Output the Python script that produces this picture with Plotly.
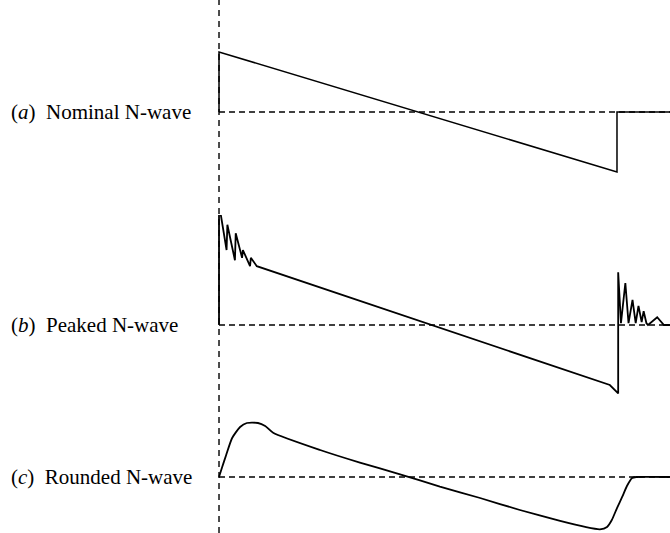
import plotly.graph_objects as go

# ---- data (normalised time t: 0 = shock arrival, 1 = tail shock; pressure in units of nominal peak) ----
t_nominal = [0, 0, 1.0, 1.0, 1.133]
p_nominal = [0, 1.0, -1.0, 0, 0]

t_peaked = [0, 0, 0.019, 0.021, 0.040, 0.042, 0.058, 0.060, 0.078, 0.080, 0.095,
            0.982, 1.003, 1.003, 1.010, 1.021, 1.029, 1.039, 1.047, 1.054, 1.062,
            1.067, 1.074, 1.078, 1.101, 1.118, 1.133]
p_peaked = [0, 2.02, 1.25, 1.67, 1.08, 1.53, 1.12, 1.25, 0.98, 1.12, 0.98,
            -1.0, -1.14, 0.88, 0.03, 0.70, 0.03, 0.42, 0.03, 0.32, 0.05,
            0.23, 0.03, 0, 0.13, 0, 0]

t_rounded = [0, 0.008, 0.018, 0.033, 0.053, 0.070, 0.098, 0.116, 0.136, 0.254,
             0.354, 0.455, 0.555, 0.656, 0.756, 0.857, 0.920, 0.957, 0.975, 0.987,
             1.0, 1.013, 1.025, 1.038, 1.048, 1.133]
p_rounded = [0, 0.167, 0.367, 0.65, 0.833, 0.9, 0.9, 0.85, 0.738, 0.45,
             0.24, 0.045, -0.16, -0.35, -0.55, -0.733, -0.833, -0.872, -0.833, -0.717,
             -0.517, -0.333, -0.15, -0.017, 0, 0]

labels = ["(<i>a</i>)&nbsp; Nominal N-wave", "(<i>b</i>)&nbsp; Peaked N-wave",
          "(<i>c</i>)&nbsp; Rounded N-wave"]

T_MIN, T_MAX = -0.5503, 1.1332
H = 533.0

# axis layout: (top px, bottom px, baseline px)
panels = [(0, 215, 112), (215, 400, 325), (400, 533, 477)]
PX_PER_UNIT = 60.0

fig = go.Figure()
series = [(t_nominal, p_nominal, 1.5), (t_peaked, p_peaked, 1.8), (t_rounded, p_rounded, 1.8)]
for i, ((t, p, w), (top, bot, base)) in enumerate(zip(series, panels)):
    yname = "y" if i == 0 else f"y{i+1}"
    # dashed baseline
    fig.add_trace(go.Scatter(x=[0, T_MAX], y=[0, 0], mode="lines", xaxis="x", yaxis=yname,
                             line=dict(color="black", width=1.4, dash="6px,4px"),
                             hoverinfo="skip", showlegend=False))
    fig.add_trace(go.Scatter(x=t, y=p, mode="lines", xaxis="x", yaxis=yname,
                             line=dict(color="black", width=w,
                                       shape="spline" if i == 2 else "linear",
                                       smoothing=0.6 if i == 2 else None),
                             showlegend=False))
    fig.add_annotation(x=0.013, xref="paper", y=0, yref=yname, text=labels[i],
                       showarrow=False, xanchor="left", yanchor="middle",
                       font=dict(family="Liberation Serif", size=21, color="black"))
    ymax = (base - top) / PX_PER_UNIT
    ymin = (base - bot) / PX_PER_UNIT
    ax = dict(domain=[1 - bot / H, 1 - top / H], range=[ymin, ymax], visible=False,
              anchor="x", fixedrange=True)
    if i == 0:
        fig.update_layout(yaxis=ax)
    else:
        fig.update_layout(**{f"yaxis{i+1}": ax})

fig.add_shape(type="line", xref="x", yref="paper", x0=0, x1=0, y0=0, y1=1,
              line=dict(color="black", width=1.4, dash="6px,5px"))

fig.update_layout(
    width=670, height=533,
    margin=dict(l=0, r=0, t=0, b=0),
    paper_bgcolor="white", plot_bgcolor="white",
    xaxis=dict(range=[T_MIN, T_MAX], visible=False, fixedrange=True, domain=[0, 1]),
    showlegend=False,
)

fig.write_html("out.html")
